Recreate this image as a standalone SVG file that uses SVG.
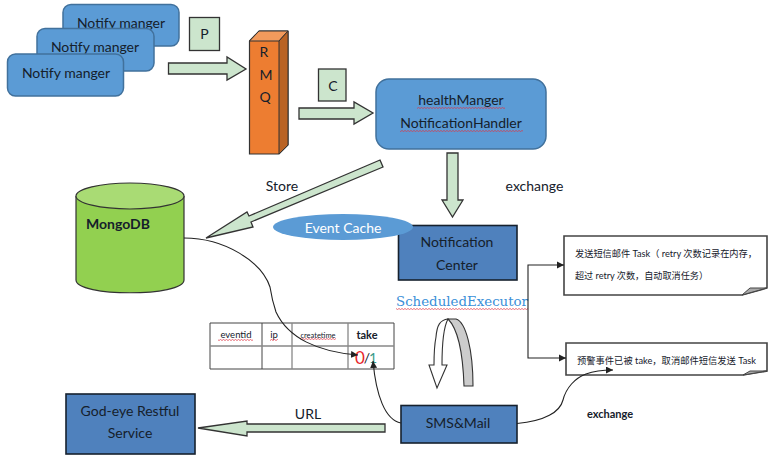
<svg xmlns="http://www.w3.org/2000/svg" width="776" height="461" viewBox="0 0 776 461">
<style>
text{font-family:Lato,"Noto Sans CJK SC",sans-serif;fill:#15202b;text-anchor:middle}
.b{fill:#5b9bd5;stroke:#41719c;stroke-width:1.5}
.d{fill:#4f81bd;stroke:#16212e;stroke-width:1.6}
.g{fill:#cce5cd;stroke:#333;stroke-width:1.3}
.c{fill:none;stroke:#222;stroke-width:1.1}
.t{font-size:14px}
.s{font-size:9.5px;text-anchor:start}
.l{fill:none;stroke:#444;stroke-width:1}
.h{fill:none;stroke:#888;stroke-width:1.3}
.n{fill:#fff;stroke:#444;stroke-width:1.6}
.f{fill:#aaa;stroke:#444;stroke-width:1}
</style>
<defs>
<marker id="a" markerUnits="userSpaceOnUse" markerWidth="8" markerHeight="8" refX="7" refY="3.5" orient="auto"><path d="M0 0L7 3.5L0 7z" fill="#222"/></marker>
<pattern id="sq" width="3" height="2" patternUnits="userSpaceOnUse"><path d="M0 .5L1.5 1.5L3 .5" fill="none" stroke="#e03040" stroke-width=".7"/></pattern>
</defs>
<rect width="776" height="461" fill="#fff"/>
<g id="notify1"><rect class="b" x="63" y="4.500" width="116" height="41.500" rx="8"/><text class="t" x="121" y="28">Notify manger</text></g>
<g id="notify2"><rect class="b" x="37" y="28.500" width="117" height="42.500" rx="8"/><text class="t" x="95" y="52">Notify manger</text></g>
<g id="notify3"><rect class="b" x="7.500" y="54" width="116" height="42" rx="8"/><text class="t" x="66" y="78">Notify manger</text></g>
<g id="p"><rect class="g" x="189.500" y="17.500" width="30" height="33"/><text class="t" x="204.500" y="39">P</text></g>
<g id="rmq"><path d="M249.500 41L259 31H288V145L279 154H249.500z" fill="#ed7d31" stroke="#333" stroke-width="1.2"/><path d="M249.500 41L259 31H288L279 41z" fill="#f29a5c" stroke="#333" stroke-width="1"/><path d="M279 41L288 31V145L279 154z" fill="#b96325" stroke="#333" stroke-width="1"/><text class="t" x="264" y="57">R</text><text class="t" x="266" y="80">M</text><text class="t" x="265" y="102">Q</text></g>
<g id="c"><rect class="g" x="318.500" y="69" width="27.500" height="32"/><text class="t" x="333" y="91">C</text></g>
<g id="health"><rect class="b" x="376" y="79" width="170" height="70" rx="13"/><text class="t" x="461" y="105">healthManger</text><text class="t" x="461" y="128">NotificationHandler</text><rect x="417" y="107" width="88" height="2" fill="url(#sq)"/><rect x="400" y="130" width="123" height="2" fill="url(#sq)"/></g>
<g id="mongodb"><path d="M76 196V280C76 297 184 297 184 280V196" fill="#92d050" stroke="#333" stroke-width="1.2"/><ellipse cx="130" cy="196" rx="54" ry="13" fill="#a9db74" stroke="#333" stroke-width="1.2"/><text x="118" y="229" style="font-size:14px;font-weight:700">MongoDB</text></g>
<g id="notification"><rect class="d" x="398.500" y="225.500" width="118.500" height="54.500"/><text class="t" x="457" y="247">Notification</text><text class="t" x="457" y="270">Center</text></g>
<g id="eventcache"><ellipse cx="343" cy="227" rx="70" ry="13" fill="#5b9bd5"/><text x="343" y="233" style="font-size:14px;fill:#fff">Event Cache</text></g>
<text x="396" y="306" textLength="132" lengthAdjust="spacingAndGlyphs" style="font-family:'DejaVu Serif',serif;font-size:13px;fill:#3a8fd8;text-anchor:start">ScheduledExecutor</text>
<rect x="396" y="308" width="132" height="2" fill="url(#sq)"/>
<g id="table"><path class="l" d="M210 323H394V369H210zM262 323V369"/><path class="h" d="M210 346H394M292 323V369M348 323V369"/><text x="236" y="338" style="font-size:9.500px">eventid</text><text x="274" y="338" style="font-size:9.500px">ip</text><text x="318" y="338" style="font-size:7.500px">createtime</text><text x="367" y="339" style="font-size:11px;font-weight:700">take</text><rect x="218" y="339" width="35" height="2" fill="url(#sq)"/><rect x="270" y="339" width="8" height="2" fill="url(#sq)"/><rect x="300" y="338" width="36" height="2" fill="url(#sq)"/><text x="360" y="364" style="font-size:17px;fill:#e8262a">0</text><text x="367" y="363" style="font-size:14px">/</text><text x="373" y="363" style="font-size:14px;fill:#3a9a8a">1</text></g>
<g id="note1"><path class="n" d="M564 236H767V288L742 295H564z"/><path class="f" d="M742 295L750 288L767 288z"/><text class="s" x="575" y="257" textLength="182" lengthAdjust="spacingAndGlyphs">发送短信邮件 Task（ retry 次数记录在内存，</text><text class="s" x="575" y="279" textLength="133" lengthAdjust="spacingAndGlyphs">超过 retry 次数，自动取消任务）</text></g>
<g id="note2"><path class="n" d="M566 343H767V371L743 375H566z"/><path class="f" d="M743 375L750 371L767 371z"/><text class="s" x="577" y="364" textLength="179" lengthAdjust="spacingAndGlyphs">预警事件已被 take，取消邮件短信发送 Task</text></g>
<g id="smsmail"><rect class="d" x="401" y="405.500" width="116" height="37.500"/><text class="t" x="458" y="428">SMS&amp;Mail</text></g>
<g id="godeye"><rect class="d" x="66" y="394" width="129" height="60"/><text class="t" x="130" y="416">God-eye Restful</text><text class="t" x="130" y="438">Service</text></g>
<g id="connectors">
<path class="g" d="M168.500 63H227V57L246 69L227 80V74H168.500z"/>
<path class="g" d="M299 108H354V102L373 113L354 124V119H299z"/>
<path class="g" d="M447 153H458V200H463L452.500 217L442 200H447z"/>
<path class="g" d="M380 160L383 167L251 222L253 227L206 238L247 212L249 216z"/>
<path class="g" d="M385 424V432H247V436L198 428L247 421V424z"/>
<path class="c" d="M184 238C225 238 262 262 270 287C272 300 274 306 276 312C288 338 318 352 358 355" marker-end="url(#a)"/>
<path class="c" d="M401 423C385 420 376 395 373 361" marker-end="url(#a)"/>
<path class="c" d="M564 265H528V358H566"/>
<path d="M557 261.500L564 265L557 268.500zM559 354.500L566 358L559 361.500z" fill="#222"/>
<path class="c" d="M517 423.500C545 421 560 412 563 400C566 388 575 378 586 374C594 371 603 370 613 370" marker-end="url(#a)"/>
<path d="M448 319C440 320 437 325 436 337C434 347 434 355 434 365H429L437 388L447 365H442C442 345 443 328 448 319z" fill="#fff" stroke="#333" stroke-width="1.1"/>
<path d="M448 319H456C466 322 473 350 473 386H464C463 355 459 330 448 319z" fill="#ccc" stroke="#333" stroke-width="1.1"/>
</g>
<text class="t" x="282" y="191">Store</text>
<text class="t" x="534.500" y="191">exchange</text>
<text class="t" x="308" y="419">URL</text>
<text x="610" y="418" style="font-size:11px;font-weight:700">exchange</text>
</svg>
